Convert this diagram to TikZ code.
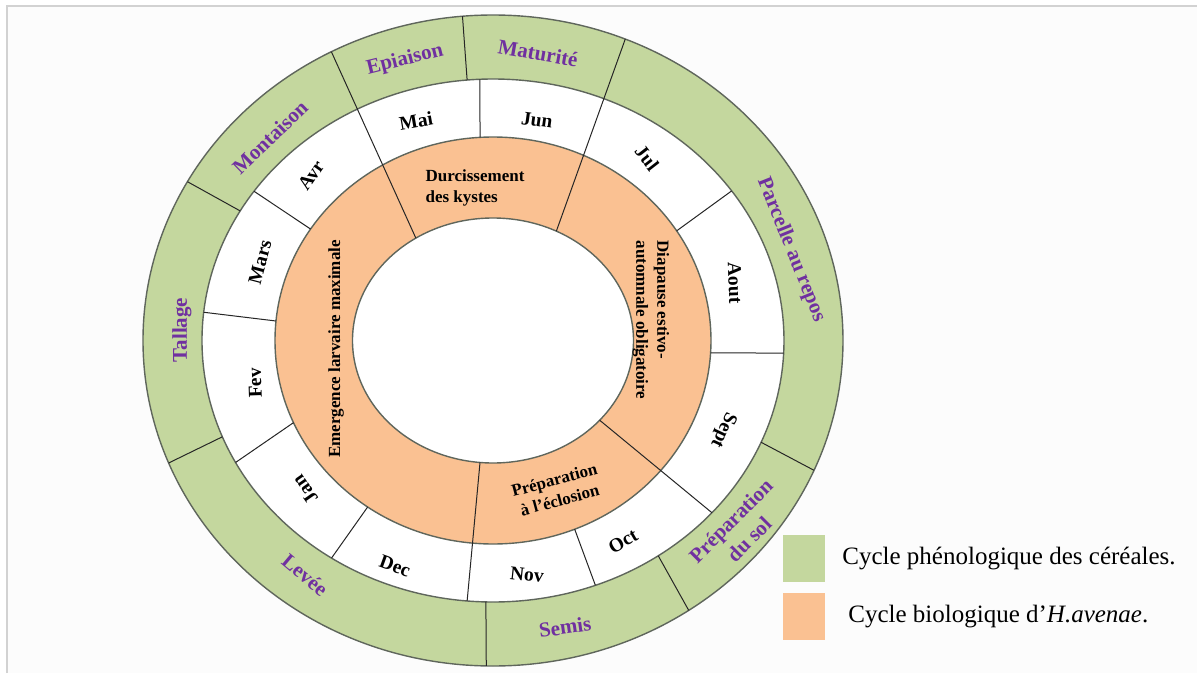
\documentclass[tikz,border=0pt]{standalone}
\usepackage{fontspec}
\setmainfont{Liberation Serif}
\usetikzlibrary{positioning}
\definecolor{cropgreen}{RGB}{196,215,158}
\definecolor{cystorange}{RGB}{250,193,146}
\definecolor{stagepurple}{RGB}{112,48,160}
\definecolor{ringline}{RGB}{95,102,92}

\begin{document}
\begin{tikzpicture}[x=1pt,y=1pt,
		ring/.style={draw=ringline,line width=1.4pt},
		cut/.style={draw=black!85,line width=1pt},
		stage/.style={text=stagepurple,font=\fontsize{21}{26}\selectfont\bfseries,align=center,inner sep=0pt},
		month/.style={font=\fontsize{19.5}{21}\selectfont\bfseries,inner sep=0pt},
		phase/.style={font=\fontsize{17}{21}\selectfont\bfseries,inner sep=0pt},
		key/.style={minimum width=42pt,minimum height=47pt,inner sep=0pt},
		keytext/.style={font=\fontsize{25}{28}\selectfont,inner sep=0pt}]
		\useasboundingbox (-493,-332.5) rectangle (704,340.5);

		%frame
		\fill[gray!2] (-486,-332.5) rectangle (704,334.5);
		\draw[gray!35,line width=1.5pt] (-486,-332.5) -- (-486,334.5) -- (704,334.5);

		%rings
		\filldraw[ring,fill=cropgreen] (0,0) ellipse [x radius=350,y radius=325.5];
		\filldraw[ring,fill=white] (0,0) ellipse [x radius=291,y radius=261.5];
		\filldraw[ring,fill=cystorange] (0,0) ellipse [x radius=218,y radius=203.5];
		\filldraw[ring,fill=white] (0,0) ellipse [x radius=140.5,y radius=122.5];

		%long dividers
		\draw[cut] (117.5:350 and 325.5) -- (123.3:140.5 and 122.5);
		\draw[cut] (67.8:350 and 325.5) -- (63.2:140.5 and 122.5);
		\draw[cut] (-41.2:291 and 261.5) -- (-40.6:140.5 and 122.5);
		\draw[cut] (-95.1:291 and 261.5) -- (-95.3:140.5 and 122.5);

		%stage dividers
		\draw[cut] (95.1:291 and 261.5) -- (95:350 and 325.5);
		\draw[cut] (-22.9:291 and 261.5) -- (-23.5:350 and 325.5);
		\draw[cut] (-55.4:291 and 261.5) -- (-56:350 and 325.5);
		\draw[cut] (-91.4:291 and 261.5) -- (-91.1:350 and 325.5);
		\draw[cut] (-158.4:291 and 261.5) -- (-157.9:350 and 325.5);
		\draw[cut] (150.3:291 and 261.5) -- (150.8:350 and 325.5);

		%month dividers
		\draw[cut] (93.4:218 and 203.5) -- (92.6:291 and 261.5);
		\draw[cut] (32.6:218 and 203.5) -- (34.9:291 and 261.5);
		\draw[cut] (-3.5:218 and 203.5) -- (-2.75:291 and 261.5);
		\draw[cut] (-68:218 and 203.5) -- (-69.4:291 and 261.5);
		\draw[cut] (-125.1:218 and 203.5) -- (-123.7:291 and 261.5);
		\draw[cut] (-156.2:218 and 203.5) -- (-152.2:291 and 261.5);
		\draw[cut] (174.5:218 and 203.5) -- (173.8:291 and 261.5);
		\draw[cut] (146.8:218 and 203.5) -- (145.2:291 and 261.5);

		%stage labels
		\node[stage,rotate=14] (epiaison) at (-88,280.5) {Epiaison};
		\node[stage,rotate=-10] (maturite) at (45,287.5) {Maturité};
		\node[stage,rotate=44] (montaison) at (-223,203.5) {Montaison};
		\node[stage,rotate=90] (tallage) at (-311,10.5) {Tallage};
		\node[stage,rotate=-68] (repos) at (298,90.5) {Parcelle au repos};
		\node[stage,rotate=45] (solprep) at (247,-189.5) {Préparation\\du sol};
		\node[stage,rotate=8] (semis) at (72,-286.5) {Semis};
		\node[stage,rotate=-40] (levee) at (-188,-234.5) {Levée};

		%month labels
		\node[month,rotate=10] (mai) at (-77,219.5) {Mai};
		\node[month,rotate=-8] (jun) at (44,220.5) {Jun};
		\node[month,rotate=-52] (jul) at (154,182.5) {Jul};
		\node[month,rotate=-88] (aout) at (242,57.5) {Aout};
		\node[month,rotate=-115] (sept) at (230,-89.5) {Sept};
		\node[month,rotate=30] (oct) at (130,-200.5) {Oct};
		\node[month,rotate=-6] (nov) at (34,-234.5) {Nov};
		\node[month,rotate=-20] (dec) at (-98,-225.5) {Dec};
		\node[month,rotate=125] (jan) at (-188,-149.5) {Jan};
		\node[month,rotate=92] (fev) at (-238,-42.5) {Fev};
		\node[month,rotate=75] (mars) at (-233,78.5) {Mars};
		\node[month,rotate=55] (avr) at (-182,165.5) {Avr};

		%cyst labels
		\node[phase,align=left] (durcis) at (-18,152.5) {Durcissement\\des kystes};
		\node[phase,align=left,rotate=-90] (diapause) at (158,20.5) {Diapause estivo-\\automnale obligatoire};
		\node[phase,rotate=90] (emergence) at (-157,-8.5) {Emergence larvaire maximale};
		\node[phase,align=center,rotate=15] (eclosion) at (64,-149.5) {Préparation\\à l’éclosion};

		%legend
		\node[key,fill=cropgreen] (keygreen) at (311,-218) {};
		\node[key,fill=cystorange] (keyorange) at (311,-276) {};
		\node[keytext,right=17pt of keygreen] (textgreen) {Cycle phénologique des céréales.};
		\node[keytext,right=23pt of keyorange] (textorange) {Cycle biologique d’\textit{H.avenae}.};
	\end{tikzpicture}
\end{document}
